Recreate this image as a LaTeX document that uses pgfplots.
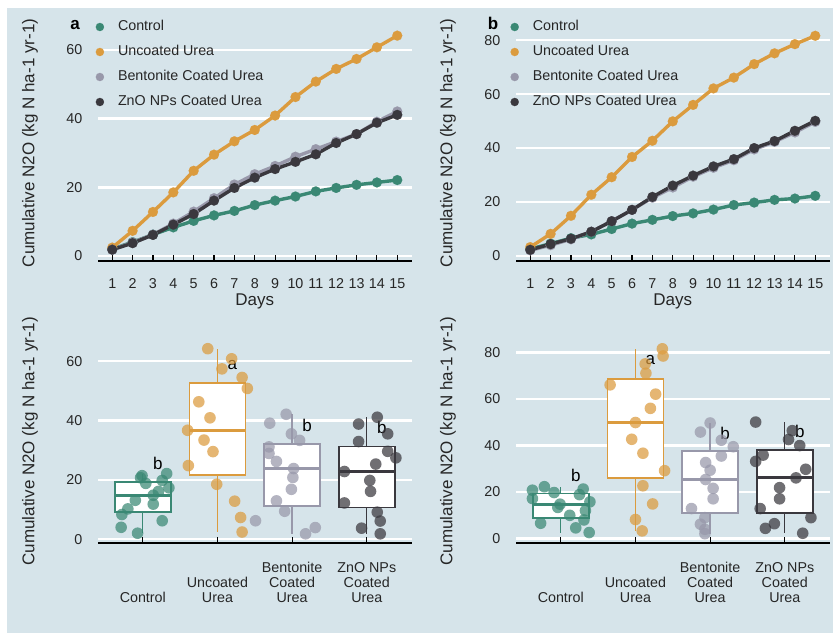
\documentclass[border=0pt]{standalone}
\usepackage{fontspec}
\setmainfont{Liberation Sans}
\usepackage{pgfplots}
\pgfplotsset{compat=1.18}
\usepgfplotslibrary{statistics}
\definecolor{bgblue}{RGB}{214,228,234}
\definecolor{cctrl}{RGB}{58,136,116}
\definecolor{curea}{RGB}{219,155,62}
\definecolor{cbent}{RGB}{152,152,170}
\definecolor{czno}{RGB}{58,56,62}
\newcommand{\fs}{\fontsize{14.3}{15.3}\selectfont}
\newcommand{\fl}{\fontsize{17}{20}\selectfont}
\pgfplotsset{
  panel/.style={
    scale only axis, clip=false,
    axis x line*=bottom, axis y line*=left,
    x axis line style={line width=1.2pt, black, -},
    y axis line style={draw=none},
    ytick style={draw=none},
    xtick style={line width=1.2pt, black},
    tick align=inside, major tick length=6pt,
    ymajorgrids, grid style={white, line width=2.6pt},
    ticklabel style={font=\fs, text=black!85},
    yticklabel style={inner sep=0pt, xshift=-15.5pt},
    /pgf/number format/assume math mode=true,
    ylabel={Cumulative N2O (kg N ha-1 yr-1)},
    every axis y label/.style={at={(axis description cs:-0.217,0.5)}, rotate=90, anchor=center, font=\fl, text=black!85},
  },
  toppanel/.style={panel, width=313.5pt, height=236pt, xmin=0.3, xmax=15.7, xtick={1,...,15},
    xticklabel style={anchor=north, inner sep=0pt, yshift=-17pt},
    xlabel={Days},
    every axis x label/.style={at={(axis description cs:0.5,0)}, anchor=north, yshift=-32.5pt, inner sep=0pt, font=\fl, text=black!85},
    legend cell align=left,
    legend style={at={(axis description cs:0,1)}, anchor=north west, xshift=-2.2pt, yshift=5pt, draw=none, fill=none, inner sep=0pt, outer sep=0pt, font=\fs, text=black!85, row sep=11pt, nodes={inner sep=0pt, text height=10.5pt, text depth=3.5pt}, /tikz/every odd column/.style={column sep=14pt}},
    legend image code/.code={\draw[#1, only marks, mark size=4.1pt] plot coordinates {(0pt,0pt)};},
  },
  botpanel/.style={panel, width=313.6pt, height=203.5pt, xmin=0.4, xmax=4.6, xtick={1,2,3,4},
    xticklabels={Control, {Uncoated\\Urea}, {Bentonite\\Coated\\Urea}, {ZnO NPs\\Coated\\Urea}},
    xticklabel style={align=center, anchor=south, inner sep=0pt, yshift=-60pt},
    boxplot/draw direction=y,
    boxplot/every median/.style={line width=3.2pt},
    boxplot/every whisker/.style={line width=1.3pt},
  },
  ln/.style={color=#1, line width=3.4pt, mark=*, mark size=5pt, mark options={solid, fill=#1, line width=0.1pt}},
  pts/.style={only marks, mark=*, mark size=5.8pt, color=#1, mark options={fill=#1, fill opacity=0.72, draw opacity=0}},
  bx/.style={draw=#1, fill=white, line width=1.8pt, solid},
}
\begin{document}
\begin{tikzpicture}
\useasboundingbox (0pt,0pt) rectangle (833pt,633pt);
\fill[bgblue] (7pt,0pt) rectangle (833pt,625pt);

% ---------- panel a (top left)
\begin{axis}[toppanel, at={(98pt,372pt)}, anchor=south west, ymin=-1.5, ymax=67.3, ytick={0,20,40,60}]
\addplot[ln=cctrl] coordinates {(1,2.0)(2,4.0)(3,6.2)(4,8.3)(5,10.2)(6,11.8)(7,13.1)(8,14.8)(9,16.1)(10,17.3)(11,18.8)(12,19.8)(13,20.7)(14,21.4)(15,22.1)};
\addlegendentry{Control}
\addplot[ln=curea] coordinates {(1,2.4)(2,7.3)(3,12.8)(4,18.5)(5,24.8)(6,29.5)(7,33.4)(8,36.7)(9,40.9)(10,46.3)(11,50.8)(12,54.5)(13,57.4)(14,60.8)(15,64.2)};
\addlegendentry{Uncoated Urea}
\addplot[ln=cbent] coordinates {(1,1.8)(2,3.9)(3,6.2)(4,9.4)(5,12.9)(6,16.8)(7,20.8)(8,23.8)(9,26.2)(10,28.9)(11,31.1)(12,33.3)(13,35.5)(14,39.1)(15,42.1)};
\addlegendentry{Bentonite Coated Urea}
\addplot[ln=czno] coordinates {(1,1.8)(2,3.7)(3,6.1)(4,9.1)(5,12.2)(6,16.1)(7,19.8)(8,22.8)(9,25.3)(10,27.4)(11,29.6)(12,32.9)(13,35.5)(14,38.8)(15,41.1)};
\addlegendentry{ZnO NPs Coated Urea}
\node[font=\fl\bfseries, anchor=base] at (axis description cs:-0.073,0.979) {a};
\end{axis}

% ---------- panel b (top right)
\begin{axis}[toppanel, at={(516pt,372pt)}, anchor=south west, ymin=-1.85, ymax=85.6, ytick={0,20,40,60,80}, legend style={xshift=-3.2pt}]
\addplot[ln=cctrl] coordinates {(1,2.6)(2,4.6)(3,6.6)(4,8.0)(5,10.0)(6,12.0)(7,13.4)(8,14.8)(9,15.8)(10,17.2)(11,18.9)(12,19.8)(13,20.8)(14,21.3)(15,22.3)};
\addlegendentry{Control}
\addplot[ln=curea] coordinates {(1,3.3)(2,8.2)(3,14.9)(4,22.7)(5,29.2)(6,36.7)(7,42.7)(8,49.9)(9,56.0)(10,62.1)(11,66.1)(12,71.1)(13,75.1)(14,78.5)(15,81.6)};
\addlegendentry{Uncoated Urea}
\addplot[ln=cbent] coordinates {(1,2.1)(2,4.0)(3,6.2)(4,9.0)(5,12.9)(6,17.1)(7,21.6)(8,25.4)(9,29.4)(10,32.7)(11,35.5)(12,39.5)(13,42.3)(14,45.8)(15,49.7)};
\addlegendentry{Bentonite Coated Urea}
\addplot[ln=czno] coordinates {(1,2.3)(2,4.4)(3,6.4)(4,9.0)(5,12.9)(6,17.1)(7,21.9)(8,26.1)(9,29.8)(10,33.2)(11,35.9)(12,40.0)(13,42.6)(14,46.4)(15,50.1)};
\addlegendentry{ZnO NPs Coated Urea}
\node[font=\fl\bfseries, anchor=base] at (axis description cs:-0.073,0.979) {b};
\end{axis}

% ---------- bottom left
\begin{axis}[botpanel, at={(98pt,90pt)}, anchor=south west, ymin=-1.3, ymax=67.3, ytick={0,20,40,60}]
\addplot[bx=cctrl, boxplot prepared={draw position=1, lower whisker=2.0, lower quartile=9.25, median=14.8, upper quartile=19.3, upper whisker=22.1, box extend=0.75, whisker extend=0}] coordinates {};
\addplot[bx=curea, boxplot prepared={draw position=2, lower whisker=2.4, lower quartile=21.65, median=36.7, upper quartile=52.65, upper whisker=64.2, box extend=0.75, whisker extend=0}] coordinates {};
\addplot[bx=cbent, boxplot prepared={draw position=3, lower whisker=1.8, lower quartile=11.15, median=23.8, upper quartile=32.2, upper whisker=42.1, box extend=0.75, whisker extend=0}] coordinates {};
\addplot[bx=czno, boxplot prepared={draw position=4, lower whisker=1.8, lower quartile=10.65, median=22.8, upper quartile=31.25, upper whisker=41.1, box extend=0.75, whisker extend=0}] coordinates {};
\addplot[pts=cctrl] coordinates {(0.93,2.0)(0.71,4.0)(1.26,6.2)(0.72,8.3)(0.80,10.2)(1.14,11.8)(0.90,13.1)(1.14,14.8)(1.21,16.1)(1.35,17.3)(1.04,18.8)(1.26,19.8)(0.97,20.7)(0.99,21.4)(1.32,22.1)};
\addplot[pts=curea] coordinates {(2.33,2.4)(2.31,7.3)(2.23,12.8)(1.99,18.5)(1.61,24.8)(1.94,29.5)(1.82,33.4)(1.60,36.7)(1.90,40.9)(1.75,46.3)(2.40,50.8)(2.33,54.5)(2.06,57.4)(2.19,60.8)(1.87,64.2)};
\addplot[pts=cbent] coordinates {(3.18,1.8)(3.31,3.9)(2.51,6.2)(2.90,9.4)(2.79,12.9)(2.99,16.8)(3.01,20.8)(3.02,23.8)(2.79,26.2)(2.69,28.9)(2.69,31.1)(3.10,33.3)(2.99,35.5)(2.70,39.1)(2.92,42.1)};
\addplot[pts=czno] coordinates {(4.18,1.8)(3.93,3.7)(4.18,6.1)(4.14,9.1)(3.70,12.2)(4.05,16.1)(4.04,19.8)(3.70,22.8)(4.12,25.3)(4.39,27.4)(4.28,29.6)(3.89,32.9)(4.28,35.5)(3.89,38.8)(4.14,41.1)};
\node[font=\fl] at (axis cs:1.2,25.6) {b};
\node[font=\fl] at (axis cs:2.2,58.8) {a};
\node[font=\fl] at (axis cs:3.2,38.2) {b};
\node[font=\fl] at (axis cs:4.2,37.8) {b};
\end{axis}

% ---------- bottom right
\begin{axis}[botpanel, at={(516pt,90pt)}, anchor=south west, ymin=-1.9, ymax=85.6, ytick={0,20,40,60,80}]
\addplot[bx=cctrl, boxplot prepared={draw position=1, lower whisker=2.6, lower quartile=9.0, median=14.8, upper quartile=19.35, upper whisker=22.3, box extend=0.75, whisker extend=0}] coordinates {};
\addplot[bx=curea, boxplot prepared={draw position=2, lower whisker=3.3, lower quartile=25.95, median=49.9, upper quartile=68.6, upper whisker=81.6, box extend=0.75, whisker extend=0}] coordinates {};
\addplot[bx=cbent, boxplot prepared={draw position=3, lower whisker=2.1, lower quartile=10.95, median=25.4, upper quartile=37.5, upper whisker=49.7, box extend=0.75, whisker extend=0}] coordinates {};
\addplot[bx=czno, boxplot prepared={draw position=4, lower whisker=2.3, lower quartile=10.95, median=26.1, upper quartile=37.95, upper whisker=50.1, box extend=0.75, whisker extend=0}] coordinates {};
\addplot[pts=cctrl] coordinates {(1.38,2.6)(1.20,4.6)(0.73,6.6)(1.31,8.0)(1.12,10.0)(1.33,12.0)(0.96,13.4)(0.99,14.8)(1.39,15.8)(0.62,17.2)(1.25,18.9)(0.91,19.8)(0.62,20.8)(1.30,21.3)(0.78,22.3)};
\addplot[pts=curea] coordinates {(2.09,3.3)(2.00,8.2)(2.23,14.9)(2.10,22.7)(2.39,29.2)(2.10,36.7)(1.95,42.7)(2.00,49.9)(2.20,56.0)(2.27,62.1)(1.66,66.1)(2.14,71.1)(2.13,75.1)(2.37,78.5)(2.36,81.6)};
\addplot[pts=cbent] coordinates {(2.93,2.1)(2.93,4.0)(2.87,6.2)(2.93,9.0)(2.75,12.9)(3.04,17.1)(3.04,21.6)(2.94,25.4)(3.00,29.4)(2.94,32.7)(3.15,35.5)(3.31,39.5)(3.15,42.3)(2.87,45.8)(3.00,49.7)};
\addplot[pts=czno] coordinates {(4.24,2.3)(3.74,4.4)(3.86,6.4)(4.35,9.0)(3.67,12.9)(3.93,17.1)(3.93,21.9)(4.15,26.1)(4.28,29.8)(3.61,33.2)(3.71,35.9)(4.20,40.0)(4.05,42.6)(4.10,46.4)(3.61,50.1)};
\node[font=\fl] at (axis cs:1.2,27.3) {b};
\node[font=\fl] at (axis cs:2.2,76.9) {a};
\node[font=\fl] at (axis cs:3.2,45.4) {b};
\node[font=\fl] at (axis cs:4.2,45.9) {b};
\end{axis}
\end{tikzpicture}
\end{document}
